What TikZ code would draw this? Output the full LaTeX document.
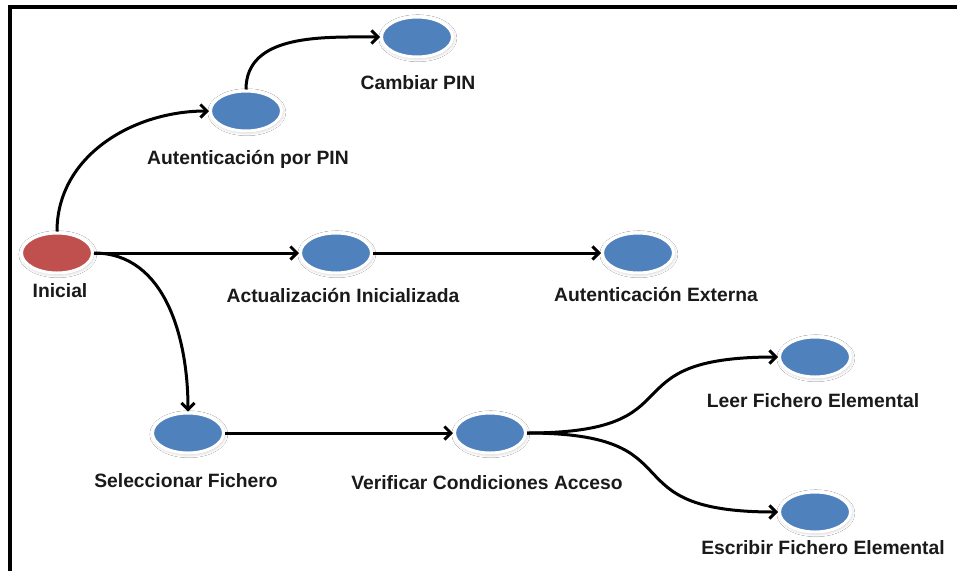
\documentclass[tikz,border=0pt]{standalone}
\usepackage{fontspec}
\setmainfont{Liberation Sans}
\usetikzlibrary{shapes.geometric,arrows.meta,shadows.blur}

\definecolor{stateblue}{HTML}{4F81BD}
\definecolor{statered}{HTML}{C0504D}
\definecolor{labelink}{HTML}{1A1A1A}

\tikzset{
  state/.style={ellipse, minimum width=71pt, minimum height=40pt, inner sep=0pt,
    fill=stateblue, draw=white, line width=3pt,
    blur shadow={shadow xshift=0.8pt, shadow yshift=-1.2pt, shadow blur radius=3.5pt,
      shadow blur steps=10, shadow opacity=25}},
  startstate/.style={state, fill=statered},
  caption/.style={anchor=base, inner sep=0pt, text=labelink,
    font=\fontsize{19.3pt}{22pt}\selectfont\bfseries},
  conn/.style={line width=3pt, black,
    -{Straight Barb[length=6.5pt, width=13pt]}},
}

\begin{document}
\begin{tikzpicture}[x=1pt, y=-1pt]
  \useasboundingbox (0,0) rectangle (957,571);
  \fill[white] (0,0) rectangle (957,571);

  % frame edges
  \draw[line width=4pt, line join=miter] (10,571) -- (10,7) -- (957,7);

  % states
  \node[startstate] (ini)  at (57,253)  {};
  \node[state]      (apin) at (246,111) {};
  \node[state]      (cpin) at (417,37)  {};
  \node[state]      (act)  at (336,253) {};
  \node[state]      (ext)  at (638,253) {};
  \node[state]      (sel)  at (188,433) {};
  \node[state]      (ver)  at (490,433) {};
  \node[state]      (leer) at (815,357) {};
  \node[state]      (esc)  at (815,512) {};

  % state names
  \node[caption] (tini)  at (60,297)  {Inicial};
  \node[caption] (tapin) at (248,164) {Autenticación por PIN};
  \node[caption] (tcpin) at (418,89)  {Cambiar PIN};
  \node[caption] (tact)  at (343,302) {Actualización Inicializada};
  \node[caption] (text)  at (656,301) {Autenticación Externa};
  \node[caption] (tsel)  at (186,487) {Seleccionar Fichero};
  \node[caption] (tver)  at (487,489) {Verificar Condiciones Acceso};
  \node[caption] (tleer) at (813,407) {Leer Fichero Elemental};
  \node[caption] (tesc)  at (823,554) {Escribir Fichero Elemental};

  % transitions
  \draw[conn] (ini.north) to[out=90, in=180] (apin.west);
  \draw[conn] (apin.north) to[out=90, in=180] (cpin.west);
  \draw[conn] (ini.east) -- (act.west);
  \draw[conn] (act.east) -- (ext.west);
  \draw[conn] (ini.east) to[out=0, in=90] (sel.north);
  \draw[conn] (sel.east) -- (ver.west);
  \draw[conn] (ver.east) to[out=0, in=180, looseness=1.7] (leer.west);
  \draw[conn] (ver.east) to[out=0, in=180, looseness=1.7] (esc.west);
\end{tikzpicture}
\end{document}
